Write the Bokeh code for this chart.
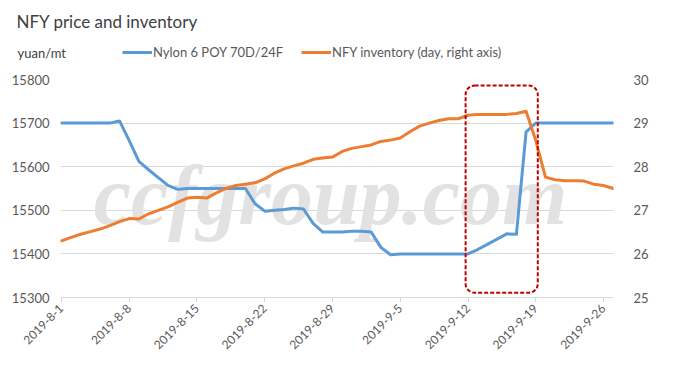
import math
import pandas as pd
from bokeh.plotting import figure
from bokeh.layouts import column
from bokeh.models import (Range1d, LinearAxis, FixedTicker, Legend, LegendItem,
                          Label, BoxAnnotation, ColumnDataSource)
from bokeh.embed import file_html
from bokeh.resources import INLINE

# ---------------- data ----------------
title_text = "NFY price and inventory"
unit_text = "yuan/mt"
series_names = ["Nylon 6 POY 70D/24F", "NFY inventory (day, right axis)"]

start_date = "2019-08-01"
end_date = "2019-09-27"
tick_dates = ["2019-8-1", "2019-8-8", "2019-8-15", "2019-8-22", "2019-8-29",
              "2019-9-5", "2019-9-12", "2019-9-19", "2019-9-26"]

price = [15700, 15700, 15700, 15700, 15700, 15700, 15705, 15660, 15612, 15593,
         15575, 15557, 15548, 15550, 15550, 15550, 15550, 15550, 15550, 15550,
         15515, 15498, 15500, 15502, 15505, 15503, 15470, 15450, 15450, 15450,
         15452, 15452, 15450, 15415, 15398, 15400, 15400, 15400, 15400, 15400,
         15400, 15400, 15400, 15410, 15422, 15434, 15446, 15445, 15680, 15700,
         15700, 15700, 15700, 15700, 15700, 15700, 15700, 15700]

inventory = [26.30, 26.38, 26.45, 26.51, 26.57, 26.65, 26.74, 26.81, 26.80, 26.92,
             27.00, 27.08, 27.18, 27.28, 27.30, 27.28, 27.40, 27.50, 27.57, 27.60,
             27.63, 27.72, 27.85, 27.95, 28.02, 28.08, 28.17, 28.20, 28.22, 28.35,
             28.42, 28.46, 28.50, 28.58, 28.61, 28.66, 28.80, 28.93, 29.00, 29.06,
             29.10, 29.10, 29.18, 29.20, 29.20, 29.20, 29.20, 29.22, 29.27, 28.60,
             27.76, 27.70, 27.68, 27.68, 27.67, 27.60, 27.57, 27.50]

left_ticks = [15300, 15400, 15500, 15600, 15700, 15800]
right_ticks = [25, 26, 27, 28, 29, 30]

highlight_start = "2019-09-11 18:00"
highlight_end = "2019-09-19 05:00"
highlight_low = 15311
highlight_high = 15786

# ---------------- derived ----------------
t0 = pd.Timestamp(start_date)
dates = pd.date_range(start_date, end_date, freq="D")
days = [(d - t0).days for d in dates]
tick_days = [(pd.Timestamp(s) - t0).days for s in tick_dates]

src = ColumnDataSource(dict(x=days, price=price, inv=inventory))

BLUE = "#5B9BD5"
ORANGE = "#ED7D31"
GRID = "#D9D9D9"
TXT = "#595959"
FONT = "Lato"

HEADER_H = 65

# ---------------- header (title, unit, legend) ----------------
h = figure(width=697, height=HEADER_H, output_backend="svg", toolbar_location=None,
           x_axis_location=None, y_axis_location=None,
           x_range=Range1d(0, 1), y_range=Range1d(0, 1),
           min_border_left=0, min_border_right=0, min_border_top=0, min_border_bottom=0)
h.outline_line_color = None
h.xgrid.grid_line_color = None
h.ygrid.grid_line_color = None
h.background_fill_color = "white"
h.border_fill_color = "white"

h.add_layout(Label(x=16, y=HEADER_H - 21, x_units="screen", y_units="screen",
                   text=title_text, text_font=FONT, text_font_size="17px",
                   text_color="#404040", text_baseline="alphabetic"))
h.add_layout(Label(x=17, y=HEADER_H - 52, x_units="screen", y_units="screen",
                   text=unit_text, text_font=FONT, text_font_size="13px",
                   text_color="#404040", text_baseline="alphabetic"))

nan = float("nan")
k_price = h.line(x=[nan], y=[nan], line_color=BLUE, line_width=3)
k_inv = h.line(x=[nan], y=[nan], line_color=ORANGE, line_width=3)

legend_kw = dict(orientation="horizontal", glyph_width=30, glyph_height=14,
                 label_height=14, label_width=10, label_standoff=1, padding=0,
                 margin=0, border_line_alpha=0, background_fill_alpha=0,
                 label_text_font=FONT, label_text_font_size="13px",
                 label_text_color=TXT)
h.add_layout(Legend(items=[LegendItem(label=series_names[0], renderers=[k_price])],
                    location=(122, HEADER_H - 60), **legend_kw))
h.add_layout(Legend(items=[LegendItem(label=series_names[1], renderers=[k_inv])],
                    location=(301, HEADER_H - 60), **legend_kw))

# ---------------- main chart ----------------
p = figure(width=697, height=380 - HEADER_H, output_backend="svg", toolbar_location=None,
           x_range=Range1d(-0.1, 57.03), y_range=Range1d(15300, 15800),
           min_border_left=60, min_border_right=84, min_border_top=79 - HEADER_H,
           min_border_bottom=83)
p.outline_line_color = None
p.background_fill_color = "white"
p.border_fill_color = "white"

# keep each figure's own borders (no frame syncing inside the column)
for fig in (h, p):
    if "frame_align" in fig.properties():
        fig.frame_align = False

p.extra_y_ranges = {"inv": Range1d(25, 30)}

p.xgrid.grid_line_color = None
p.ygrid.grid_line_color = GRID
p.ygrid.grid_line_width = 1

# watermark
p.add_layout(Label(x=27.8, y=15534, text="ccfgroup.com", text_align="center",
                   text_baseline="alphabetic", text_font="Liberation Serif",
                   text_font_style="bold italic", text_font_size="84px",
                   text_color="#E2E2E2", level="underlay"))

xa = p.xaxis[0]
xa.ticker = FixedTicker(ticks=tick_days)
xa.major_label_overrides = {d: s for d, s in zip(tick_days, tick_dates)}
xa.major_label_orientation = math.pi / 4
xa.axis_line_color = GRID
xa.major_tick_line_color = GRID
xa.major_tick_out = 5
xa.major_tick_in = 0
xa.minor_tick_line_color = None
xa.major_label_text_font = FONT
xa.major_label_text_font_size = "12px"
xa.major_label_text_color = TXT
xa.major_label_standoff = 4

ya = p.yaxis[0]
ya.ticker = FixedTicker(ticks=left_ticks)
ya.axis_line_color = None
ya.major_tick_line_color = None
ya.minor_tick_line_color = None
ya.major_label_text_font = FONT
ya.major_label_text_font_size = "13px"
ya.major_label_text_color = TXT
ya.major_label_standoff = 5

ra = LinearAxis(y_range_name="inv", ticker=FixedTicker(ticks=right_ticks))
ra.axis_line_color = None
ra.major_tick_line_color = None
ra.minor_tick_line_color = None
ra.major_label_text_font = FONT
ra.major_label_text_font_size = "13px"
ra.major_label_text_color = TXT
ra.major_label_standoff = 14
p.add_layout(ra, "right")

p.line("x", "price", source=src, line_color=BLUE, line_width=3,
       line_join="round", line_cap="round")
p.line("x", "inv", source=src, y_range_name="inv", line_color=ORANGE,
       line_width=3, line_join="round", line_cap="round")

hs = (pd.Timestamp(highlight_start) - t0).total_seconds() / 86400
he = (pd.Timestamp(highlight_end) - t0).total_seconds() / 86400
p.add_layout(BoxAnnotation(left=hs, right=he, bottom=highlight_low, top=highlight_high,
                           fill_alpha=0, line_alpha=1, line_color="#C00000", line_width=2,
                           line_dash="4 2", border_radius=9))

layout = column(h, p, spacing=0)
open("out.html", "w").write(file_html(layout, INLINE))
